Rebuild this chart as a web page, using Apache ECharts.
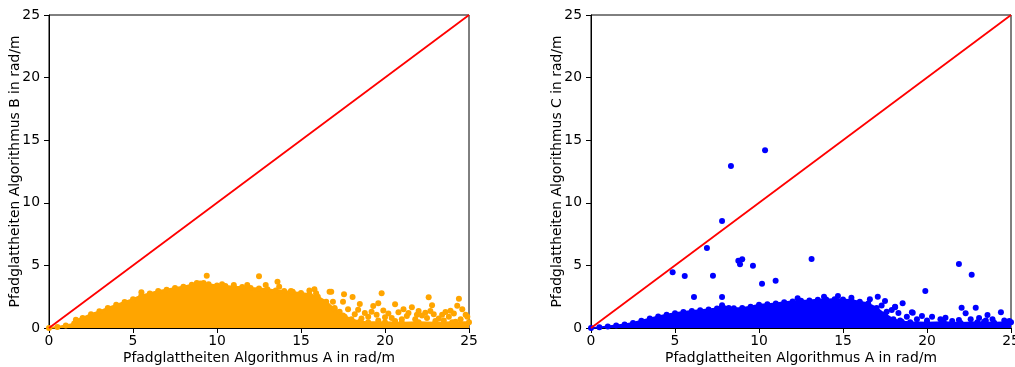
<!DOCTYPE html>
<html>
<head>
<meta charset="utf-8">
<script src="https://cdn.jsdelivr.net/npm/echarts@6/dist/echarts.min.js"></script>
<style>html,body{margin:0;padding:0;background:#fff}#c{width:1015px;height:367px}</style>
</head>
<body>
<div id="c"></div>
<script>
// ---- data ----
const axisTicks = [0, 5, 10, 15, 20, 25];
const xLabel = "Pfadglattheiten Algorithmus A in rad/m";
const yLabelB = "Pfadglattheiten Algorithmus B in rad/m";
const yLabelC = "Pfadglattheiten Algorithmus C in rad/m";
const diagonal = [[0, 0], [25, 25]];

// upper envelope of the dense cloud, algorithm B
const envelopeB = [[0,0],[0.5,0.08],[1,0.2],[1.5,0.35],[1.6,0.65],[2,0.8],[2.5,1.1],[3,1.33],[3.5,1.6],[4,1.85],[4.5,2.08],[5,2.3],[5.5,2.6],[6,2.75],[6.5,2.95],[7,3.05],[7.5,3.2],[8,3.3],[8.5,3.45],[9,3.55],[9.5,3.5],[10,3.4],[10.5,3.35],[11,3.3],[11.5,3.28],[12,3.2],[12.5,3.15],[13,3.1],[13.5,3.0],[14,2.95],[14.5,2.85],[15,2.8],[15.5,2.7],[16,2.5],[16.5,2.1],[17,1.5],[17.5,1.0],[18,0.7],[18.5,0.5],[19,0.45],[20,0.45],[21,0.42],[22,0.45],[23,0.42],[24,0.45],[25,0.45]];
// scattered points of algorithm B outside the dense cloud
const pointsB = [[9.39,4.18],[12.5,4.13],[13.6,3.7],[12.9,3.43],[11.0,3.43],[11.8,3.43],[13.7,3.3],[14.5,2.9],[15.8,3.09],[15.9,2.77],[16.7,2.9],[5.5,2.85],[10.3,3.5],[8.8,3.6],[9.2,3.6],[15.5,3.0],[14.4,2.95],
[16.8,2.9],[17.56,2.69],[18.07,2.47],[16.9,2.1],[17.5,2.1],[18.5,1.92],[19.8,2.77],[20.6,1.9],[19.3,1.76],[19.6,1.97],[21.1,1.49],[21.6,1.65],[22.0,1.36],[22.4,1.22],[22.6,2.45],[22.8,1.81],[23.6,1.28],[23.9,1.38],[24.3,1.78],[24.4,2.34],[24.6,1.49],[24.9,0.9],
[17.0,1.6],[17.3,1.3],[17.8,1.5],[18.2,1.1],[18.4,1.45],[18.8,1.2],[19.0,0.9],[19.2,1.3],[19.5,1.05],[19.9,1.4],[20.2,1.15],[20.4,0.8],[20.8,1.25],[21.3,0.95],[21.4,1.2],[21.8,0.7],[22.2,1.0],[22.5,0.8],[22.9,1.1],[23.2,0.75],[23.4,1.05],[23.8,0.9],[24.1,1.15],[24.5,0.7],[24.8,1.05],[18.6,0.75],[19.6,0.6],[20.6,0.55],[21.0,0.7],[23.0,0.55],[24.2,0.5],[17.6,0.9],[20.0,0.85],[21.9,1.05],[22.7,1.35],[23.5,0.6]];

// upper envelope of the dense cloud, algorithm C
const envelopeC = [[0,0],[0.5,0.05],[1,0.12],[1.5,0.2],[2,0.28],[2.5,0.4],[3,0.58],[3.5,0.75],[4,0.92],[4.5,1.05],[5,1.18],[5.5,1.28],[6,1.35],[6.5,1.42],[7,1.48],[7.5,1.55],[7.8,1.82],[8.2,1.6],[8.5,1.58],[9,1.6],[9.5,1.7],[10,1.85],[10.5,1.9],[11,1.95],[11.5,2.05],[12,2.12],[12.5,2.18],[13,2.2],[13.5,2.25],[14,2.28],[14.5,2.3],[15,2.28],[15.5,2.22],[16,2.1],[16.5,1.95],[17,1.6],[17.5,1.1],[18,0.7],[18.5,0.5],[19,0.45],[20,0.42],[21,0.45],[22,0.4],[23,0.45],[24,0.42],[25,0.45]];
// scattered points of algorithm C outside the dense cloud
const pointsC = [[10.36,14.2],[8.33,12.94],[7.8,8.55],[6.9,6.39],[8.77,5.38],[9.0,5.49],[8.87,5.09],[9.64,4.98],[4.86,4.45],[5.58,4.15],[7.26,4.18],[10.18,3.54],[10.99,3.78],[13.13,5.51],[6.13,2.47],[7.8,2.47],[12.3,2.37],[13.87,2.5],[14.7,2.56],[15.5,2.42],[16.6,2.29],[17.07,2.5],
[17.5,2.16],[18.1,1.7],[18.55,1.97],[19.15,1.22],[19.7,0.96],[19.9,2.96],[20.3,0.9],[21.1,0.82],[22.06,1.62],[22.3,1.17],[22.66,4.26],[22.9,1.62],[23.6,1.04],[24.4,1.25],[21.9,0.64],[23.4,0.5],[17.9,1.44],[18.1,1.65],[17.3,1.8],[17.6,1.3],[18.3,1.2],[18.8,0.9],[18.4,0.6],[19.4,0.7],[20.0,0.6],[20.8,0.7],[21.5,0.55],[22.6,0.7],[23.1,0.8],[23.9,0.7],[24.6,0.6],[24.9,0.55],[21.9,5.11],[23.5,0.59],[19.1,1.25]];

// ---- chart ----
const FONT = "DejaVu Sans";
function makeAxis(idx, name, gap, labelMargin) {
  return {
    gridIndex: idx, type: 'value', min: 0, max: 25, interval: 5,
    name: name, nameLocation: 'middle', nameGap: gap, nameMoveOverlap: false,
    nameTextStyle: { color: '#000', fontSize: 13.9, fontFamily: FONT },
    axisLine: { show: true, onZero: false, lineStyle: { color: '#000', width: 1 } },
    axisTick: { show: true, inside: false, length: 5, lineStyle: { color: '#000' } },
    axisLabel: { color: '#000', fontSize: 13.9, fontFamily: FONT, margin: labelMargin,
      formatter: v => axisTicks.includes(v) ? String(v) : '' },
    splitLine: { show: false }
  };
}
const chart = echarts.init(document.getElementById('c'), null, { renderer: 'canvas' });
function cloud(idx, env, pts, color) {
  return [
    { type: 'line', xAxisIndex: idx, yAxisIndex: idx, data: env, symbol: 'circle', symbolSize: 6,
      showSymbol: true, itemStyle: { color: color }, lineStyle: { color: color, width: 2 },
      areaStyle: { color: color, opacity: 1 }, z: 2, silent: true },
    { type: 'scatter', xAxisIndex: idx, yAxisIndex: idx, data: pts, symbolSize: 6,
      itemStyle: { color: color, opacity: 1 }, z: 3, silent: true },
    { type: 'line', xAxisIndex: idx, yAxisIndex: idx, data: diagonal, symbol: 'none',
      lineStyle: { color: '#ff0000', width: 1.8 }, z: 4, silent: true }
  ];
}
chart.setOption({
  animation: false,
  backgroundColor: '#fff',
  grid: [
    { left: 49, right: 546, top: 15, bottom: 39, containLabel: false, outerBoundsMode: 'none', show: true, borderColor: '#000', borderWidth: 1 },
    { left: 591, right: 4, top: 15, bottom: 39, containLabel: false, outerBoundsMode: 'none', show: true, borderColor: '#000', borderWidth: 1 }
  ],
  xAxis: [makeAxis(0, xLabel, 23, 6), makeAxis(1, xLabel, 23, 6)],
  yAxis: [makeAxis(0, yLabelB, 27, 9), makeAxis(1, yLabelC, 27, 9)],
  series: [...cloud(0, envelopeB, pointsB, '#ffa500'), ...cloud(1, envelopeC, pointsC, '#0000ff')]
});
</script>
</body>
</html>
